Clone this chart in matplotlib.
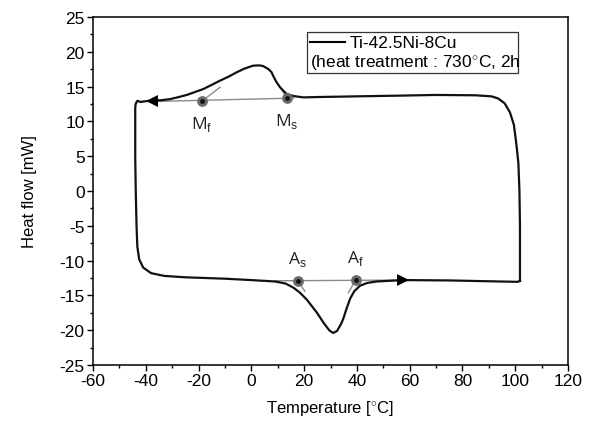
import matplotlib
matplotlib.use("Agg")
import matplotlib.pyplot as plt
from matplotlib.ticker import MultipleLocator
from matplotlib.patches import Rectangle

plt.rcParams['font.family'] = ['Liberation Sans', 'DejaVu Sans']
plt.rcParams['mathtext.fontset'] = 'custom'
plt.rcParams['mathtext.rm'] = 'Liberation Sans'
plt.rcParams['axes.unicode_minus'] = False

# DSC loop (cooling on top, right->left; heating on bottom, left->right)
loop_x = [101.8, 101.8, 101.6, 101.2, 100.5, 99.5, 98.0, 96.0, 93.5, 91.0, 85.0, 70.0,
          56.0, 40.0, 25.0, 19.7, 15.9, 13.4, 12.1, 10.9, 9.6, 8.2, 7.7, 6.5, 4.5, 3.0,
          0.6, -2.5, -5.6, -8.5, -11.9, -15.0, -18.2, -21.5, -24.5, -27.5, -30.8, -34.0,
          -37.8, -40.0, -42.0, -43.2, -43.6, -43.9, -44.0, -44.0, -43.8, -43.5, -43.2,
          -42.5, -41.0, -38.0, -33.0, -25.0, -10.0, 0.0, 9.0, 13.0, 16.0, 18.4, 21.0,
          24.7, 27.5, 29.5, 31.0, 32.5, 34.0, 34.8, 36.0, 37.4, 39.0, 41.2, 44.0, 47.5,
          57.6, 75.0, 94.0, 101.0, 101.8]
loop_y = [-12.9, -5.0, 0.0, 4.0, 6.5, 9.5, 11.3, 12.6, 13.3, 13.6, 13.75, 13.8,
          13.7, 13.6, 13.5, 13.45, 13.65, 13.95, 14.4, 14.9, 15.6, 16.6, 17.05, 17.5, 17.95, 18.05,
          18.0, 17.6, 17.05, 16.45, 15.85, 15.25, 14.65, 14.2, 13.8, 13.5, 13.2, 13.05,
          13.0, 12.9, 12.8, 12.95, 12.7, 12.4, 11.8, 5.0, 0.0, -5.0, -8.0,
          -9.8, -11.0, -11.8, -12.2, -12.4, -12.6, -12.8, -13.0, -13.3, -13.9, -14.6, -15.6,
          -17.4, -19.0, -20.0, -20.4, -20.1, -19.1, -18.4, -17.0, -15.5, -14.4, -13.6, -13.2, -13.0,
          -12.8, -12.85, -13.0, -13.05, -12.9]

# direction arrows
arrow_x = [-37.8, 57.6]
arrow_y = [13.0, -12.8]
arrow_dir = ['<', '>']

# transformation temperatures
pt_labels = ['M$_\\mathrm{f}$', 'M$_\\mathrm{s}$', 'A$_\\mathrm{s}$', 'A$_\\mathrm{f}$']
pt_x = [-18.8, 13.4, 17.5, 39.5]
pt_y = [12.9, 13.3, -12.9, -12.8]

# construction (tangent / baseline) lines
base_cool_x = [-38.0, 16.0]
base_cool_y = [12.85, 13.35]
tan_mf_x = [-18.8, -11.9]
tan_mf_y = [12.9, 14.9]
tan_ms_x = [13.4, 11.5]
tan_ms_y = [13.3, 14.6]
base_heat_x = [9.0, 56.0]
base_heat_y = [-12.9, -12.8]
tan_as_x = [17.5, 20.3]
tan_as_y = [-12.9, -14.4]
tan_af_x = [39.5, 36.8]
tan_af_y = [-12.8, -14.6]

fig = plt.figure(figsize=(5.91, 4.27), dpi=100)
ax = fig.add_axes([93/591, 1-366/427, 475/591, 348/427])

gray = '#8a8a8a'
for xs, ys in [(base_cool_x, base_cool_y), (tan_mf_x, tan_mf_y), (tan_ms_x, tan_ms_y),
               (base_heat_x, base_heat_y), (tan_as_x, tan_as_y), (tan_af_x, tan_af_y)]:
    ax.plot(xs, ys, color=gray, lw=1.0, zorder=2)

ax.plot(loop_x, loop_y, color='#111111', lw=1.6, zorder=3, solid_joinstyle='round')

for xa, ya, m in zip(arrow_x, arrow_y, arrow_dir):
    ax.plot([xa], [ya], marker=m, markersize=9, color='black', markeredgewidth=0, zorder=4)

ax.scatter(pt_x, pt_y, s=60, color='#6a6a6a', zorder=5, linewidths=0)
ax.scatter(pt_x, pt_y, s=12, color='#111111', zorder=6, linewidths=0)

lab_font = dict(family=['Open Sans', 'DejaVu Sans'], fontsize=12.5, color='#222222', ha='center')
for i, (lab, xx, yy) in enumerate(zip(pt_labels, pt_x, pt_y)):
    if i < 2:
        ax.text(xx, yy - 1.8, lab, va='top', **lab_font)
    else:
        ax.text(xx, yy + 1.9, lab, va='bottom', **lab_font)

ax.set_xlim(-60, 120)
ax.set_ylim(-25, 25)
ax.xaxis.set_major_locator(MultipleLocator(20))
ax.xaxis.set_minor_locator(MultipleLocator(10))
ax.yaxis.set_major_locator(MultipleLocator(5))
ax.yaxis.set_minor_locator(MultipleLocator(2.5))
ax.tick_params(which='major', direction='out', length=4, width=1.0, labelsize=12.5, pad=2)
ax.tick_params(which='minor', direction='out', length=2.5, width=1.0)
ax.tick_params(top=False, right=False, which='both')
for s in ax.spines.values():
    s.set_linewidth(1.1)

ax.set_xlabel('Temperature [$^{\\circ}$C]', fontsize=12, labelpad=7)
ax.set_ylabel('Heat flow [mW]', fontsize=12, labelpad=16)

# legend box
ax.add_patch(Rectangle((0.4505, 0.839), 0.4442, 0.118, transform=ax.transAxes,
                       fill=False, edgecolor='#333333', lw=0.9, zorder=7))
ax.plot([0.456, 0.531], [0.928, 0.928], transform=ax.transAxes, color='black', lw=1.5, zorder=7)
ax.text(0.540, 0.928, 'Ti-42.5Ni-8Cu', transform=ax.transAxes, fontsize=12.5,
        va='center', ha='left', zorder=7)
ax.text(0.456, 0.870, '(heat treatment : 730$^{\\circ}$C, 2h', transform=ax.transAxes,
        fontsize=12.5, va='center', ha='left', zorder=7)

fig.savefig('out.png', dpi=100)
